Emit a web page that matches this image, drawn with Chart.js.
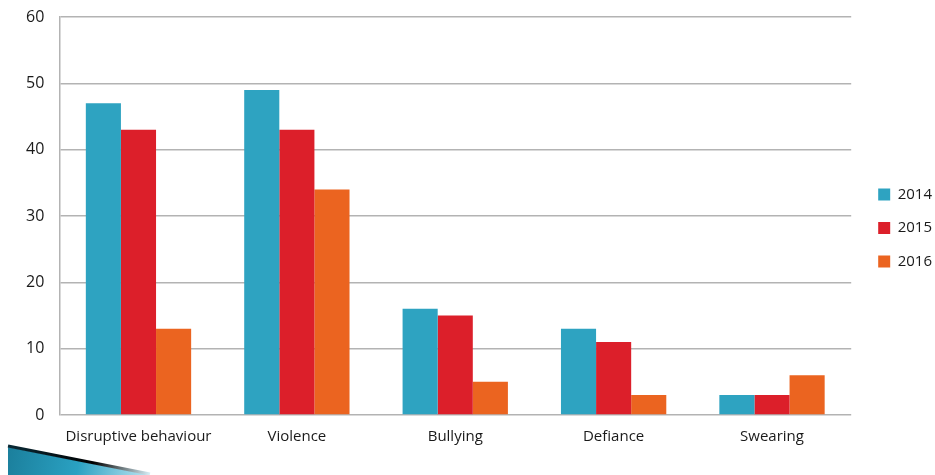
<!DOCTYPE html>
<html>
<head>
<meta charset="utf-8">
<script src="https://cdn.jsdelivr.net/npm/chart.js@4/dist/chart.umd.min.js"></script>
<style>
  html, body { margin: 0; padding: 0; background: #fff; }
  #wrap { width: 935px; height: 475px; position: relative; }
</style>
</head>
<body>
<div id="wrap"><canvas id="chart"></canvas></div>
<script>
// ======== Data ========
const categories = ["Disruptive behaviour", "Violence", "Bullying", "Defiance", "Swearing"];
const years = ["2014", "2015", "2016"];
const values2014 = [47, 49, 16, 13, 3];
const values2015 = [43, 43, 15, 11, 3];
const values2016 = [13, 34, 5, 3, 6];
const yTicks = [0, 10, 20, 30, 40, 50, 60];
const colors = ["#2ea3c1", "#dc1f2a", "#eb6420"];

const FONT = "'Open Sans', 'DejaVu Sans', sans-serif";

// push the legend a bit away from the plot and up, like the original slide
const legendShift = {
  id: "legendShift",
  beforeDraw(chart) {
    const lg = chart.legend;
    if (!lg) return;
    const w = lg.right - lg.left;
    lg.left = chart.chartArea.right + 8.5;
    lg.right = lg.left + w;
    lg.top = 7;
    lg.bottom = 449;
  },
};

// decorative slide arrow in the bottom-left corner
const cornerArrow = {
  id: "cornerArrow",
  afterDraw(chart) {
    const ctx = chart.ctx;
    ctx.save();
    const g = ctx.createLinearGradient(8, 447, 150, 475);
    g.addColorStop(0, "#1b7f9c");
    g.addColorStop(0.5, "#2aa1c2");
    g.addColorStop(1, "#bfe6f2");
    ctx.beginPath();
    ctx.moveTo(8, 447);
    ctx.lineTo(150, 475);
    ctx.lineTo(8, 475);
    ctx.closePath();
    ctx.fillStyle = g;
    ctx.fill();
    const s = ctx.createLinearGradient(8, 447, 150, 475);
    s.addColorStop(0, "#0a2a36");
    s.addColorStop(0.6, "#000");
    s.addColorStop(1, "#d8f0f8");
    ctx.beginPath();
    ctx.moveTo(8, 446);
    ctx.lineTo(150, 474);
    ctx.strokeStyle = s;
    ctx.lineWidth = 3;
    ctx.stroke();
    ctx.restore();
  },
};

new Chart(document.getElementById("chart"), {
  type: "bar",
  data: {
    labels: categories,
    datasets: [values2014, values2015, values2016].map((d, i) => ({
      label: years[i],
      data: d,
      backgroundColor: colors[i],
      borderWidth: 0,
      barPercentage: 1,
      categoryPercentage: 0.665,
    })),
  },
  options: {
    responsive: true,
    maintainAspectRatio: false,
    animation: false,
    layout: { padding: { top: 17, right: 1.5, bottom: 16, left: 11 } },
    plugins: {
      tooltip: { enabled: false },
      legend: {
        position: "right",
        labels: {
          boxWidth: 12,
          boxHeight: 12,
          padding: 18.5,
          color: "#1a1a1a",
          font: { family: FONT, size: 15 },
        },
      },
    },
    scales: {
      x: {
        grid: { display: false, drawTicks: false },
        border: { display: false },
        ticks: { color: "#1a1a1a", padding: 13, font: { family: FONT, size: 15 } },
      },
      y: {
        min: 0,
        max: 60,
        afterBuildTicks: (axis) => { axis.ticks = yTicks.map((v) => ({ value: v })); },
        afterFit: (axis) => { axis.paddingTop = 0; },
        grid: { color: "#b3b3b3", lineWidth: 1.5, drawTicks: false },
        border: { display: true, color: "#b3b3b3", width: 1.5 },
        ticks: { color: "#1a1a1a", padding: 15, font: { family: FONT, size: 16 } },
      },
    },
  },
  plugins: [legendShift, cornerArrow],
});
</script>
</body>
</html>
